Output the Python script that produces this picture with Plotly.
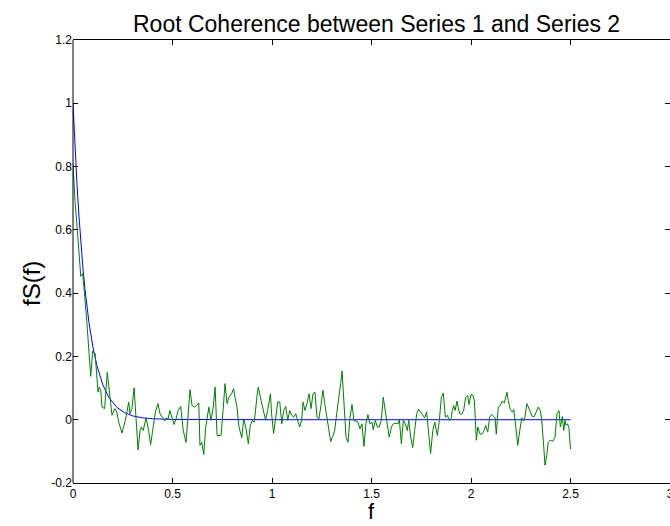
import plotly.graph_objects as go

# Model (theoretical) root coherence curve
freq_model = [0.00, 0.01, 0.02, 0.03, 0.04, 0.05, 0.06, 0.08, 0.10, 0.12, 0.15, 0.18,
              0.22, 0.26, 0.30, 0.35, 0.40, 0.50, 1.00, 1.50, 2.00, 2.50]
coh_model = [1.000, 0.863, 0.745, 0.643, 0.555, 0.479, 0.414, 0.308, 0.230, 0.171, 0.110, 0.071,
             0.039, 0.022, 0.012, 0.006, 0.003, 0.001, 0.0, 0.0, 0.0, 0.0]

# Estimated root coherence
freq_est = [0.000, 0.010, 0.022, 0.039, 0.049, 0.069, 0.089, 0.099, 0.111, 0.126, 0.132, 0.139,
            0.146, 0.159, 0.172, 0.186, 0.196, 0.210, 0.220, 0.230, 0.246, 0.263, 0.270, 0.280,
            0.286, 0.296, 0.307, 0.317, 0.327, 0.337, 0.343, 0.353, 0.367, 0.380, 0.390, 0.404,
            0.414, 0.427, 0.437, 0.451, 0.461, 0.471, 0.477, 0.487, 0.497, 0.508, 0.518, 0.528,
            0.541, 0.554, 0.568, 0.581, 0.588, 0.598, 0.611, 0.622, 0.632,
            0.638, 0.647, 0.657, 0.667, 0.683, 0.693, 0.705, 0.714, 0.724, 0.744, 0.754, 0.764,
            0.774, 0.784, 0.797, 0.807, 0.814, 0.824, 0.834, 0.848, 0.858, 0.868, 0.881, 0.891,
            0.901, 0.911, 0.925, 0.931, 0.945, 0.958, 0.968, 0.978, 0.992, 0.998, 1.008, 1.019,
            1.029, 1.039, 1.049, 1.059, 1.069, 1.079, 1.089, 1.099, 1.109, 1.119, 1.129, 1.139,
            1.149, 1.156, 1.166, 1.176, 1.186, 1.196, 1.206, 1.216, 1.226, 1.236, 1.246, 1.256,
            1.265, 1.275, 1.285, 1.295, 1.305, 1.315, 1.325, 1.335, 1.345, 1.352, 1.362, 1.372,
            1.382, 1.392, 1.402, 1.412, 1.422, 1.432, 1.442, 1.452, 1.462, 1.472, 1.482, 1.492,
            1.503, 1.509, 1.519, 1.529, 1.539, 1.549, 1.559, 1.569, 1.579, 1.589, 1.600, 1.610,
            1.623, 1.633, 1.640, 1.650, 1.660, 1.670, 1.680, 1.687, 1.697, 1.707, 1.717, 1.727,
            1.737, 1.747, 1.757, 1.767, 1.777, 1.787, 1.797, 1.808, 1.818, 1.831, 1.841, 1.851,
            1.861, 1.871, 1.881, 1.891,
            1.899, 1.906, 1.913, 1.920, 1.930, 1.936, 1.943, 1.953, 1.963, 1.973, 1.983, 1.990,
            2.000, 2.010, 2.017, 2.027, 2.034, 2.044, 2.054, 2.064, 2.074, 2.084, 2.094, 2.104,
            2.114, 2.121, 2.127, 2.137, 2.147, 2.157, 2.167, 2.181, 2.187, 2.198, 2.208, 2.215,
            2.225, 2.235, 2.245, 2.255, 2.265, 2.271, 2.281, 2.288, 2.298, 2.308, 2.318, 2.328,
            2.338, 2.348, 2.355, 2.365, 2.372, 2.382, 2.388, 2.398, 2.412, 2.422, 2.432, 2.442,
            2.449, 2.459, 2.466, 2.472, 2.478, 2.485, 2.492, 2.500]
coh_est = [0.810, 0.693, 0.598, 0.453, 0.462, 0.314, 0.137, 0.217, 0.209, 0.087, 0.103, 0.093,
           0.040, 0.035, 0.150, 0.071, 0.014, 0.035, 0.024, -0.008, -0.042, -0.002, 0.024, 0.056,
           0.019, 0.035, 0.101, 0.008, -0.095, -0.034, -0.023, -0.034, 0.006, -0.034, -0.079, -0.018,
           0.024, 0.051, 0.019, 0.006, -0.004, 0.006, 0.000, 0.029, 0.006, -0.015, 0.003, 0.029,
           0.042, -0.034, -0.072, 0.061, 0.095, 0.045, 0.040, 0.045, 0.053,
           -0.081, -0.071, -0.110, -0.023, 0.040, -0.002, 0.040, 0.103, -0.050, -0.050, 0.029, 0.114,
           0.051, 0.071, 0.082, 0.098, 0.071, 0.040, -0.023, -0.057, 0.003, -0.023, -0.076, -0.018,
           -0.002, -0.008, 0.077, 0.103, 0.061, 0.024, -0.002, 0.029, 0.082, 0.019, -0.044, 0.008,
           0.056, 0.056, -0.013, 0.029, 0.042, -0.002, 0.029, 0.014, 0.008, 0.019, -0.002, -0.023,
           -0.002, 0.056, 0.029, 0.051, 0.082, 0.035, 0.082, 0.087, 0.008, 0.003, 0.045, 0.093,
           0.051, 0.008, -0.034, -0.069, -0.053, -0.034, 0.019, 0.061, 0.114, 0.154, 0.051, -0.055,
           -0.071, 0.008, 0.048, -0.004, -0.004, -0.008, -0.029, -0.013, -0.084, -0.013, 0.016, -0.013,
           -0.008, -0.032, -0.002, -0.023, -0.023, -0.002, 0.071, 0.029, -0.013, -0.055, -0.023, -0.013,
           -0.011, -0.013, 0.000, -0.076, -0.002, -0.013, -0.034, -0.002, -0.055, -0.088, -0.034, 0.019,
           0.033, 0.024, 0.019, 0.006, 0.025, -0.034, -0.107, -0.034, -0.008, -0.050, -0.002, 0.071,
           0.084, 0.008, 0.014, -0.002,
           0.000, 0.029, 0.045, 0.029, 0.059, 0.038, 0.019, 0.017, 0.029, 0.071, 0.077, 0.048,
           0.080, 0.077, 0.059, -0.065, -0.023, -0.044, -0.046, -0.036, -0.018, -0.039, 0.008, 0.017,
           0.010, 0.006, -0.046, 0.040, 0.045, 0.059, 0.053, 0.087, 0.061, 0.032, 0.024, 0.032,
           -0.023, -0.081, -0.034, 0.006, -0.004, 0.008, 0.051, 0.040, 0.024, 0.010, 0.010, 0.024,
           0.040, 0.029, 0.003, -0.081, -0.144, -0.107, -0.071, -0.065, -0.068, -0.055, 0.019, 0.029,
           -0.023, 0.010, -0.034, -0.002, -0.018, -0.013, -0.025, -0.093]

x_ticks = [0, 0.5, 1, 1.5, 2, 2.5, 3]
x_tick_labels = ["0", "0.5", "1", "1.5", "2", "2.5", "3"]
y_ticks = [-0.2, 0, 0.2, 0.4, 0.6, 0.8, 1.0, 1.2]
y_tick_labels = ["-0.2", "0", "0.2", "0.4", "0.6", "0.8", "1", "1.2"]

title_text = "Root Coherence between Series 1 and Series 2"
x_label = "f"
y_label = "fS(f)"

fig = go.Figure()
fig.add_trace(go.Scatter(x=freq_model, y=coh_model, mode="lines",
                         line=dict(color="#0000ff", width=1), showlegend=False))
fig.add_trace(go.Scatter(x=freq_est, y=coh_est, mode="lines",
                         line=dict(color="#008000", width=1), showlegend=False))

font_family = "Liberation Sans, Arial, sans-serif"

fig.update_layout(
    width=670, height=526,
    margin=dict(l=73, r=0, t=40, b=43, autoexpand=False),
    paper_bgcolor="white", plot_bgcolor="white",
    font=dict(family=font_family, color="black", size=12),
    showlegend=False,
    xaxis=dict(range=[0, 3], tickvals=x_ticks, ticktext=x_tick_labels,
               showgrid=False, zeroline=False, showline=True, linecolor="black",
               linewidth=1, mirror="ticks", ticks="inside", ticklen=5,
               ticklabeloverflow="allow", automargin=False,
               tickcolor="black", tickfont=dict(size=12, family=font_family)),
    yaxis=dict(range=[-0.2, 1.2], tickvals=y_ticks, ticktext=y_tick_labels,
               showgrid=False, zeroline=False, showline=False, automargin=False,
               mirror="ticks", ticks="inside", ticklen=5,
               tickcolor="black", tickfont=dict(size=12, family=font_family)),
    shapes=[dict(type="line", xref="paper", yref="paper", x0=0, x1=0, y0=0, y1=1,
                 line=dict(color="black", width=1))],
    annotations=[
        dict(text=title_text, xref="paper", yref="paper", x=(376 - 73) / 597, y=(483 - 24) / 443,
             xanchor="center", yanchor="middle", showarrow=False,
             font=dict(size=23, family=font_family, color="black")),
        dict(text=x_label, xref="paper", yref="paper", x=0.5, y=(483 - 511) / 443,
             xanchor="center", yanchor="middle", showarrow=False,
             font=dict(size=22, family=font_family, color="black")),
        dict(text=y_label, xref="paper", yref="paper", x=(31 - 73) / 597, y=(483 - 284) / 443,
             xanchor="center", yanchor="middle", showarrow=False, textangle=-90,
             font=dict(size=24, family=font_family, color="black")),
    ],
)

fig.write_html("out.html")
